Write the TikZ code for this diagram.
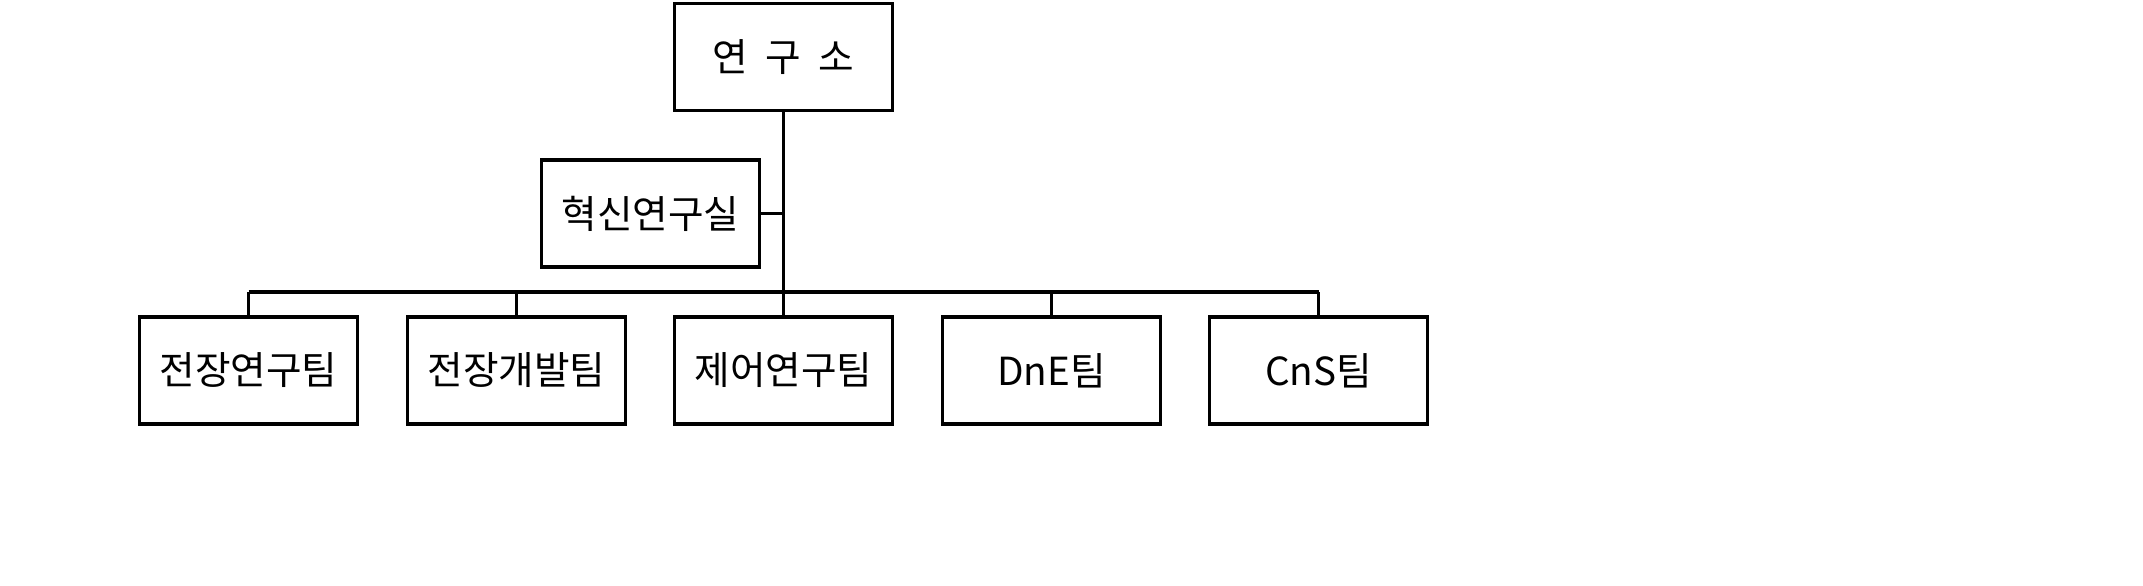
\documentclass[tikz,border=0pt]{standalone}
\usepackage{fontspec}
\newfontfamily\kr{Noto Sans CJK KR}
\tikzset{
  unitbox/.style={draw, line width=0.9pt, minimum width=2.18cm, minimum height=1.07cm, inner sep=0pt, font=\kr\fontsize{11}{13}\selectfont},
  link/.style={line width=0.9pt}
}
\begin{document}
\begin{tikzpicture}
  \useasboundingbox (0,0) rectangle (21.43,-5.85);

  % Top and staff units
  \node[unitbox] (lab) at (7.835,-0.57) {연\ \ 구\ \ 소};
  \node[unitbox] (innov) at (6.505,-2.135) {혁신연구실};

  % Team row
  \node[unitbox] (fieldres) at (2.485,-3.705) {전장연구팀};
  \node[unitbox] (fielddev) at (5.165,-3.705) {전장개발팀};
  \node[unitbox] (ctrl) at (7.835,-3.705) {제어연구팀};
  \node[unitbox] (dne) at (10.515,-3.705) {DnE팀};
  \node[unitbox] (cns) at (13.185,-3.705) {CnS팀};

  % Bus line
  \coordinate (bus) at (7.835,-2.92);
  \draw[link] (lab.south) -- (bus);
  \draw[link] (innov.east) -- (innov.east -| lab.south);
  \draw[link] (fieldres.north |- bus) -- (cns.north |- bus);
  \foreach \t in {fieldres,fielddev,ctrl,dne,cns}
    \draw[link] (\t.north) -- (\t.north |- bus);
\end{tikzpicture}
\end{document}
